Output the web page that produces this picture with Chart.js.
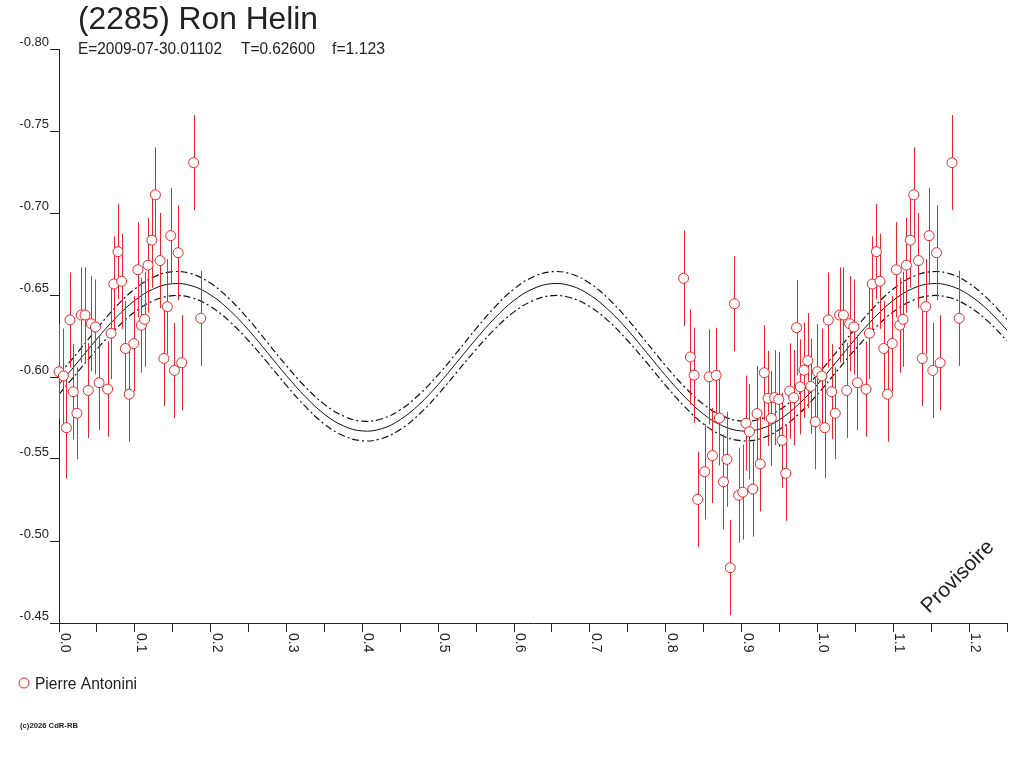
<!DOCTYPE html>
<html><head><meta charset="utf-8">
<script src="https://cdn.jsdelivr.net/npm/chart.js@4.4.1/dist/chart.umd.min.js"></script>
<style>html,body{margin:0;padding:0;background:#fff;}canvas{display:block;}</style>
</head><body>
<canvas id="c" width="1024" height="768"></canvas>
<script>
// ---- texts ----
const titleText = "(2285) Ron Helin";
const subtitleParts = ["E=2009-07-30.01102", "T=0.62600", "f=1.123"];
const observerName = "Pierre Antonini";
const watermark = "Provisoire";
const copyrightText = "(c)2026 CdR-RB";

// ---- tick labels ----
const xTickValues = [0.0, 0.1, 0.2, 0.3, 0.4, 0.5, 0.6, 0.7, 0.8, 0.9, 1.0, 1.1, 1.2];
const xTickLabels = ["0.0", "0.1", "0.2", "0.3", "0.4", "0.5", "0.6", "0.7", "0.8", "0.9", "1.0", "1.1", "1.2"];
const yTickValues = [-0.80, -0.75, -0.70, -0.65, -0.60, -0.55, -0.50, -0.45];
const yTickLabels = ["-0.80", "-0.75", "-0.70", "-0.65", "-0.60", "-0.55", "-0.50", "-0.45"];

// ---- observations (phase, magnitude, error) ----
const obsPhase = [
  0.0000, 0.0058, 0.0098, 0.0144, 0.0188, 0.0236, 0.0293, 0.0343, 0.0386, 0.0425,
  0.0481, 0.0528, 0.0641, 0.0686, 0.0723, 0.0778, 0.0826, 0.0875, 0.0925, 0.0987,
  0.1040, 0.1086, 0.1129, 0.1174, 0.1225, 0.1271, 0.1333, 0.1383, 0.1429, 0.1473,
  0.1522, 0.1571, 0.1618, 0.1775, 0.1869,
  0.8235, 0.8325, 0.8374, 0.8422, 0.8513, 0.8572, 0.8616, 0.8665, 0.8708, 0.8761,
  0.8807, 0.8851, 0.8906, 0.8962, 0.9016, 0.9058, 0.9104, 0.9148, 0.9204, 0.9246,
  0.9300, 0.9349, 0.9392, 0.9437, 0.9490, 0.9534, 0.9583, 0.9635, 0.9688, 0.9725,
  0.9774, 0.9824, 0.9873, 0.9913, 0.9972
];
const obsMag = [
  -0.6032, -0.6006, -0.5691, -0.6348, -0.5910, -0.5779, -0.6378, -0.6378, -0.5918, -0.6325,
  -0.6305, -0.5965, -0.5926, -0.6267, -0.6567, -0.6764, -0.6584, -0.6174, -0.5895, -0.6204,
  -0.6654, -0.6316, -0.6352, -0.6682, -0.6834, -0.7111, -0.6710, -0.6113, -0.6429, -0.6862,
  -0.6040, -0.6758, -0.6087, -0.7307, -0.6358,
  -0.6602, -0.6122, -0.6011, -0.5254, -0.5423, -0.6001, -0.5521, -0.6010, -0.5750, -0.5361,
  -0.5498, -0.4837, -0.6447, -0.5279, -0.5298, -0.5718, -0.5666, -0.5317, -0.5777, -0.5470,
  -0.6026, -0.5870, -0.5748, -0.5874, -0.5864, -0.5614, -0.5413, -0.5915, -0.5874, -0.6301,
  -0.5940, -0.6041, -0.6100, -0.5943, -0.5727
];
const obsErr = [
  0.029, 0.029, 0.031, 0.029, 0.029, 0.028, 0.029, 0.029, 0.029, 0.029,
  0.029, 0.029, 0.029, 0.028, 0.029, 0.029, 0.029, 0.029, 0.029, 0.029,
  0.029, 0.029, 0.029, 0.029, 0.029, 0.029, 0.029, 0.029, 0.029, 0.029,
  0.029, 0.029, 0.029, 0.029, 0.029,
  0.029, 0.029, 0.029, 0.029, 0.029, 0.029, 0.029, 0.029, 0.029, 0.029,
  0.029, 0.029, 0.029, 0.029, 0.029, 0.029, 0.029, 0.029, 0.029, 0.029,
  0.029, 0.029, 0.029, 0.029, 0.029, 0.029, 0.029, 0.029, 0.029, 0.029,
  0.029, 0.029, 0.029, 0.029, 0.029
];

// ---- fitted light curve ----
const fitPhase = [
  0.000, 0.025, 0.050, 0.075, 0.100, 0.125, 0.150, 0.175, 0.200, 0.225,
  0.250, 0.275, 0.300, 0.325, 0.350, 0.375, 0.400, 0.425, 0.450, 0.475,
  0.500, 0.525, 0.550, 0.575, 0.600, 0.625, 0.650, 0.675, 0.700, 0.725,
  0.750, 0.775, 0.800, 0.825, 0.850, 0.875, 0.900, 0.925, 0.950, 0.975,
  1.000, 1.025, 1.050, 1.075, 1.100, 1.125, 1.150, 1.175, 1.200, 1.225, 1.250
];
const fitMid = [
  -0.5954, -0.6092, -0.6232, -0.6361, -0.6467, -0.6538, -0.6569, -0.6556, -0.6500, -0.6407,
  -0.6286, -0.6148, -0.6008, -0.5879, -0.5773, -0.5702, -0.5671, -0.5684, -0.5740, -0.5833,
  -0.5954, -0.6092, -0.6232, -0.6361, -0.6467, -0.6538, -0.6569, -0.6556, -0.6500, -0.6407,
  -0.6286, -0.6148, -0.6008, -0.5879, -0.5773, -0.5702, -0.5671, -0.5684, -0.5740, -0.5833,
  -0.5954, -0.6092, -0.6232, -0.6361, -0.6467, -0.6538, -0.6569, -0.6556, -0.6500, -0.6407, -0.6286
];
const fitUpper = [
  -0.6014, -0.6152, -0.6295, -0.6428, -0.6537, -0.6610, -0.6642, -0.6629, -0.6571, -0.6475,
  -0.6351, -0.6209, -0.6068, -0.5939, -0.5833, -0.5762, -0.5731, -0.5744, -0.5800, -0.5893,
  -0.6014, -0.6152, -0.6295, -0.6428, -0.6537, -0.6610, -0.6642, -0.6629, -0.6571, -0.6475,
  -0.6351, -0.6209, -0.6068, -0.5939, -0.5833, -0.5762, -0.5731, -0.5744, -0.5800, -0.5893,
  -0.6014, -0.6152, -0.6295, -0.6428, -0.6537, -0.6610, -0.6642, -0.6629, -0.6571, -0.6475, -0.6351
];
const fitLower = [
  -0.5894, -0.6032, -0.6169, -0.6294, -0.6397, -0.6466, -0.6496, -0.6483, -0.6429, -0.6339,
  -0.6221, -0.6087, -0.5948, -0.5819, -0.5713, -0.5642, -0.5611, -0.5624, -0.5680, -0.5773,
  -0.5894, -0.6032, -0.6169, -0.6294, -0.6397, -0.6466, -0.6496, -0.6483, -0.6429, -0.6339,
  -0.6221, -0.6087, -0.5948, -0.5819, -0.5713, -0.5642, -0.5611, -0.5624, -0.5680, -0.5773,
  -0.5894, -0.6032, -0.6169, -0.6294, -0.6397, -0.6466, -0.6496, -0.6483, -0.6429, -0.6339, -0.6221
];

// ---- build tables (phase-wrapped copy for phase < 0.25) ----
const obsTable = [];
obsPhase.forEach((p, i) => {
  obsTable.push({ x: p, y: obsMag[i], e: obsErr[i] });
  if (p < 0.25) obsTable.push({ x: p + 1, y: obsMag[i], e: obsErr[i] });
});
const toXY = (xs, ys) => xs.map((v, i) => ({ x: v, y: ys[i] }));

const RED = 'rgb(236,38,38)';
const INK = '#222';
const FONT = '"Liberation Sans", Arial, sans-serif';

function fitText(ctx, text, x, y, size, width, weight) {
  ctx.save();
  ctx.font = (weight ? weight + ' ' : '') + size + 'px ' + FONT;
  const w = ctx.measureText(text).width;
  ctx.translate(x, y);
  ctx.scale(width / w, 1);
  ctx.textAlign = 'left';
  ctx.textBaseline = 'alphabetic';
  ctx.fillText(text, 0, 0);
  ctx.restore();
}

const decor = {
  id: 'decor',
  beforeDatasetDraw(chart, args) {
    if (args.index !== 0) return;
    const { ctx, scales: { x, y } } = chart;
    ctx.save();
    ctx.strokeStyle = RED;
    ctx.lineWidth = 1;
    obsTable.forEach(p => {
      const px = Math.round(x.getPixelForValue(p.x)) + 0.5;
      ctx.beginPath();
      ctx.moveTo(px, y.getPixelForValue(p.y - p.e));
      ctx.lineTo(px, y.getPixelForValue(p.y + p.e));
      ctx.stroke();
    });
    ctx.restore();
  },
  afterDraw(chart) {
    const { ctx, scales: { x } } = chart;
    ctx.save();
    ctx.fillStyle = INK;
    // title + subtitle
    fitText(ctx, titleText, 78, 28.5, 31, 240);
    fitText(ctx, subtitleParts[0], 78, 54, 16, 144);
    fitText(ctx, subtitleParts[1], 241, 54, 16, 74);
    fitText(ctx, subtitleParts[2], 332, 54, 16, 53);
    // x tick labels, rotated clockwise
    ctx.font = '14px ' + FONT;
    ctx.textAlign = 'left';
    ctx.textBaseline = 'alphabetic';
    xTickValues.forEach((v, i) => {
      const px = Math.round(x.getPixelForValue(v));
      ctx.save();
      ctx.translate(px + 1.5, 633);
      ctx.rotate(Math.PI / 2);
      ctx.fillText(xTickLabels[i], 0, 0);
      ctx.restore();
    });
    // watermark
    ctx.save();
    ctx.translate(958, 577);
    ctx.rotate(-Math.PI / 4);
    ctx.font = '21px ' + FONT;
    ctx.textAlign = 'center';
    ctx.textBaseline = 'middle';
    ctx.fillText(watermark, 0, 0);
    ctx.restore();
    // legend
    ctx.beginPath();
    ctx.arc(24, 683, 5, 0, Math.PI * 2);
    ctx.fillStyle = '#fff';
    ctx.fill();
    ctx.strokeStyle = RED;
    ctx.lineWidth = 1;
    ctx.stroke();
    ctx.fillStyle = INK;
    fitText(ctx, observerName, 35, 689, 16, 102);
    // copyright
    fitText(ctx, copyrightText, 20, 728, 7, 58, 'bold');
    ctx.restore();
  }
};

new Chart(document.getElementById('c'), {
  type: 'scatter',
  data: {
    datasets: [
      {
        label: observerName,
        data: obsTable,
        showLine: false,
        pointStyle: 'circle',
        pointRadius: 5,
        pointBorderWidth: 1,
        pointBorderColor: RED,
        pointBackgroundColor: '#fff',
        clip: false
      },
      {
        label: 'fit',
        type: 'line',
        data: toXY(fitPhase, fitMid),
        borderColor: '#111',
        borderWidth: 1,
        pointRadius: 0,
        tension: 0.4,
        fill: false
      },
      {
        label: 'fit+',
        type: 'line',
        data: toXY(fitPhase, fitUpper),
        borderColor: '#111',
        borderWidth: 1.2,
        borderDash: [7, 3, 2, 3],
        pointRadius: 0,
        tension: 0.4,
        fill: false
      },
      {
        label: 'fit-',
        type: 'line',
        data: toXY(fitPhase, fitLower),
        borderColor: '#111',
        borderWidth: 1.2,
        borderDash: [7, 3, 2, 3],
        pointRadius: 0,
        tension: 0.4,
        fill: false
      }
    ]
  },
  options: {
    responsive: false,
    animation: false,
    devicePixelRatio: 1,
    layout: { padding: { top: 49, right: 17, bottom: 0, left: 0 } },
    plugins: { legend: { display: false }, tooltip: { enabled: false }, title: { display: false } },
    scales: {
      x: {
        type: 'linear',
        min: 0,
        max: 1.25,
        afterFit(s) { s.height = 145; },
        ticks: { stepSize: 0.05, autoSkip: false, maxRotation: 0, callback: () => '' },
        grid: { drawOnChartArea: false, drawTicks: true, tickLength: 9, color: INK, tickColor: INK },
        border: { display: true, color: INK, width: 1 }
      },
      y: {
        type: 'linear',
        min: -0.80,
        max: -0.45,
        reverse: true,
        afterFit(s) { s.width = 59; },
        afterBuildTicks(s) { s.ticks = yTickValues.map(v => ({ value: v })); },
        ticks: {
          autoSkip: false,
          padding: 1,
          labelOffset: -7,
          color: INK,
          font: { family: FONT, size: 13 },
          callback: (v) => { const i = yTickValues.findIndex(t => Math.abs(t - v) < 1e-9); return i >= 0 ? yTickLabels[i] : ''; }
        },
        grid: { drawOnChartArea: false, drawTicks: true, tickLength: 9, color: INK, tickColor: INK },
        border: { display: true, color: INK, width: 1 }
      }
    }
  },
  plugins: [decor]
});
</script>
</body></html>
